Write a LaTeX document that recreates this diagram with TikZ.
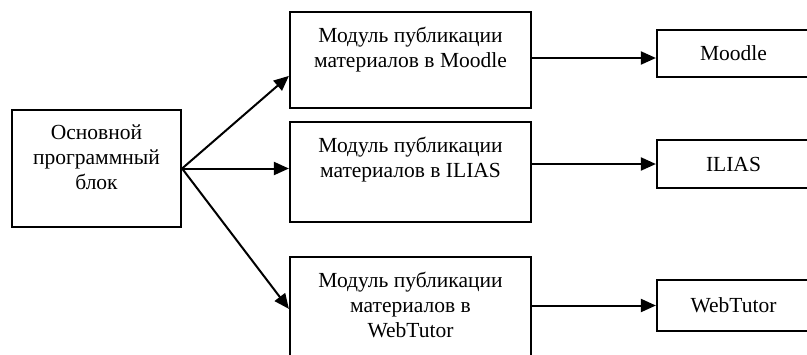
\documentclass[tikz,border=0pt]{standalone}
\usepackage{fontspec}
\setmainfont{Liberation Serif}
\usetikzlibrary{arrows.meta,calc}
\begin{document}
\begin{tikzpicture}[x=1pt,y=-1pt,
  box/.style={draw,line width=2.2pt,inner sep=0pt},
  txt/.style={font=\fontsize{21.5}{25}\selectfont,align=center,inner sep=0pt,anchor=north},
  arr/.style={line width=2pt,-{Triangle[length=15pt,width=13pt]}}]
\useasboundingbox (0,0) rectangle (807,354);
\clip (0,0) rectangle (807,354);
\node[box,minimum width=169pt,minimum height=117pt] (main) at (96.5,168.5) {};
\node[txt] (maint) at ($(main.north)+(0,16)$) {Основной\\программный\\блок};
\node[box,minimum width=241pt,minimum height=96pt] (m1) at (410.5,60) {};
\node[txt] (m1t) at ($(m1.north)+(0,16)$) {Модуль публикации\\материалов в Moodle};
\node[box,minimum width=241pt,minimum height=100pt] (m2) at (410.5,172) {};
\node[txt] (m2t) at ($(m2.north)+(0,16)$) {Модуль публикации\\материалов в ILIAS};
\node[box,minimum width=241pt,minimum height=100pt] (m3) at (410.5,307) {};
\node[txt] (m3t) at ($(m3.north)+(0,16)$) {Модуль публикации\\материалов в\\WebTutor};
\node[box,minimum width=153pt,minimum height=47pt,font=\fontsize{21.5}{25}\selectfont] (r1) at (733.5,53.5) {Moodle};
\node[box,minimum width=153pt,minimum height=48pt,font=\fontsize{21.5}{25}\selectfont] (r2) at (733.5,164) {ILIAS};
\node[box,minimum width=153pt,minimum height=51pt,font=\fontsize{21.5}{25}\selectfont] (r3) at (733.5,305.5) {WebTutor};
\draw[arr] (main.east) -- ($(m1.north west)+(0,65)$);
\draw[arr] (main.east) -- (main.east -| m2.west);
\draw[arr] (main.east) -- ($(m3.north west)+(0,53)$);
\draw[arr] ($(m1.east)+(0,-2)$) -- ($(m1.east -| r1.west)+(0,-2)$);
\draw[arr] (r2.west -| m2.east) -- (r2.west);
\draw[arr] (r3.west -| m3.east) -- (r3.west);
\end{tikzpicture}
\end{document}
